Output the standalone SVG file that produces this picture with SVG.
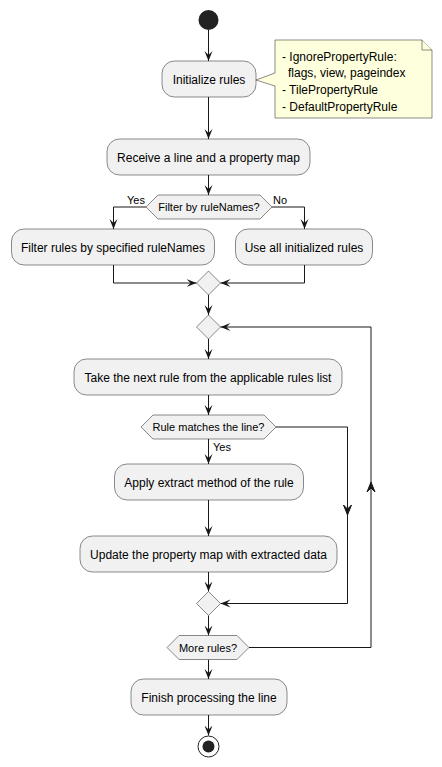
<svg xmlns="http://www.w3.org/2000/svg" width="442" height="767" viewBox="0 0 442 767">
<style>
.box{fill:#F1F1F1;stroke:#181818;stroke-width:0.5}
.note{fill:#FEFFDD;stroke:#181818;stroke-width:0.5}
.t{font-family:"Liberation Sans",Arial,sans-serif;font-size:12px;fill:#000;text-anchor:middle}
.s{font-family:"Liberation Sans",Arial,sans-serif;font-size:11px;fill:#000}
.nt{font-family:"Liberation Sans",Arial,sans-serif;font-size:12px;fill:#000}
.e{fill:none;stroke:#181818;stroke-width:1}
.ah{fill:#181818;stroke:#181818;stroke-width:1}
</style>
<defs>
<marker id="arr" markerUnits="userSpaceOnUse" markerWidth="12" markerHeight="10" refX="10" refY="4" orient="auto" viewBox="0 0 12 10">
<path d="M0,0 L10,4 L0,8 L4,4 Z" fill="#181818"/>
</marker>
</defs>
<rect width="442" height="767" fill="#FFFFFF"/>
<g id="connectors">
<path class="e" marker-end="url(#arr)" d="M208.5,30 L208.5,61"/>
<path class="e" marker-end="url(#arr)" d="M208.5,97 L208.5,139"/>
<path class="e" marker-end="url(#arr)" d="M208.5,175 L208.5,195"/>
<path class="e" marker-end="url(#arr)" d="M146,207 L113.5,207 L113.5,229"/>
<path class="e" marker-end="url(#arr)" d="M272,207 L304.5,207 L304.5,229"/>
<path class="e" marker-end="url(#arr)" d="M113.5,265 L113.5,283 L196.5,283"/>
<path class="e" marker-end="url(#arr)" d="M304.5,265 L304.5,283 L220.5,283"/>
<path class="e" marker-end="url(#arr)" d="M208.5,295 L208.5,315"/>
<path class="e" marker-end="url(#arr)" d="M208.5,339 L208.5,359"/>
<path class="e" marker-end="url(#arr)" d="M208.5,395 L208.5,415"/>
<path class="e" marker-end="url(#arr)" d="M208.5,439 L208.5,464"/>
<path class="e" marker-end="url(#arr)" d="M208.5,500 L208.5,536"/>
<path class="e" marker-end="url(#arr)" d="M208.5,572 L208.5,591.5"/>
<path class="e" marker-end="url(#arr)" d="M276,427 L347.5,427 L347.5,603.5 L220.5,603.5"/>
<path class="ah" d="M343.5,505 L347.5,515 L351.5,505 L347.5,509 Z"/>
<path class="e" marker-end="url(#arr)" d="M208.5,615.5 L208.5,635.5"/>
<path class="e" marker-end="url(#arr)" d="M249,647.5 L371,647.5 L371,327 L220.5,327"/>
<path class="ah" d="M367,492 L371,482 L375,492 L371,488 Z"/>
<path class="e" marker-end="url(#arr)" d="M208.5,659.5 L208.5,679"/>
<path class="e" marker-end="url(#arr)" d="M208.5,715 L208.5,735.5"/>
<text class="s" x="127" y="204">Yes</text>
<text class="s" x="273" y="204">No</text>
<text class="s" x="213" y="451">Yes</text>
</g>
<g id="start"><circle cx="208.5" cy="20" r="10" fill="#222222"/></g>
<g id="init">
<rect class="box" x="162" y="61" width="94" height="36" rx="12.5"/>
<text class="t" x="209" y="83.5">Initialize rules</text>
</g>
<g id="note">
<path class="note" d="M275,40 L422,40 L432,50 L432,118 L275,118 L275,86 L256,80 L275,73 Z"/>
<path class="note" d="M422,40 L422,50 L432,50" fill="none"/>
<text class="nt" x="282" y="60.5">- IgnorePropertyRule:</text>
<text class="nt" x="288" y="77">flags, view, pageindex</text>
<text class="nt" x="282" y="93.5">- TilePropertyRule</text>
<text class="nt" x="282" y="110.5">- DefaultPropertyRule</text>
</g>
<g id="receive">
<rect class="box" x="107" y="139" width="203" height="36" rx="12.5"/>
<text class="t" x="208.5" y="161.5">Receive a line and a property map</text>
</g>
<g id="filter">
<polygon class="box" points="146,207 158,195 260,195 272,207 260,219 158,219"/>
<text class="s" x="209" y="211" text-anchor="middle">Filter by ruleNames?</text>
</g>
<g id="filterRules">
<rect class="box" x="11.5" y="229" width="203" height="36" rx="12.5"/>
<text class="t" x="113" y="251.5">Filter rules by specified ruleNames</text>
</g>
<g id="useAll">
<rect class="box" x="235.5" y="229" width="137" height="36" rx="12.5"/>
<text class="t" x="304" y="251.5">Use all initialized rules</text>
</g>
<g id="merge1"><polygon class="box" points="208.5,271 220.5,283 208.5,295 196.5,283"/></g>
<g id="loop"><polygon class="box" points="208.5,315 220.5,327 208.5,339 196.5,327"/></g>
<g id="take">
<rect class="box" x="74" y="359" width="268" height="36" rx="12.5"/>
<text class="t" x="208" y="381.5">Take the next rule from the applicable rules list</text>
</g>
<g id="matches">
<polygon class="box" points="141,427 153,415 264,415 276,427 264,439 153,439"/>
<text class="s" x="208.5" y="431" text-anchor="middle">Rule matches the line?</text>
</g>
<g id="apply">
<rect class="box" x="114.5" y="464" width="189" height="36" rx="12.5"/>
<text class="t" x="209" y="486.5">Apply extract method of the rule</text>
</g>
<g id="update">
<rect class="box" x="80" y="536" width="257" height="36" rx="12.5"/>
<text class="t" x="208.5" y="558.5">Update the property map with extracted data</text>
</g>
<g id="merge2"><polygon class="box" points="208.5,591.5 220.5,603.5 208.5,615.5 196.5,603.5"/></g>
<g id="more">
<polygon class="box" points="167,647.5 179,635.5 237,635.5 249,647.5 237,659.5 179,659.5"/>
<text class="s" x="208" y="651.5" text-anchor="middle">More rules?</text>
</g>
<g id="finish">
<rect class="box" x="131" y="679" width="156" height="36" rx="12.5"/>
<text class="t" x="209" y="701.5">Finish processing the line</text>
</g>
<g id="end">
<circle cx="208.5" cy="746.5" r="10.5" fill="none" stroke="#222222" stroke-width="1"/>
<circle cx="208.5" cy="746.5" r="6" fill="#222222"/>
</g>
</svg>
